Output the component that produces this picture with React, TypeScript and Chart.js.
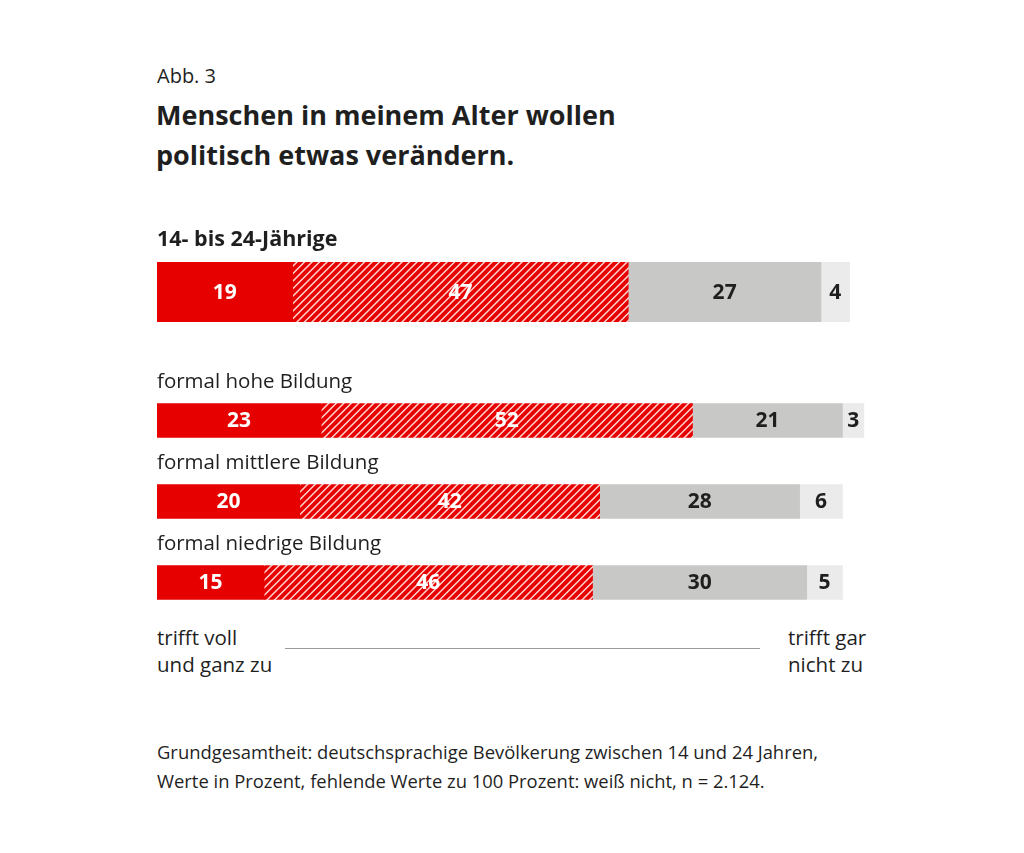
import React, { useEffect, useRef } from "react";
import { Chart, registerables } from "chart.js";

Chart.register(...registerables);

// ---------- data ----------
const topCategories = ["14- bis 24-Jährige"];
const eduCategories = [
  "formal hohe Bildung",
  "formal mittlere Bildung",
  "formal niedrige Bildung",
];
const seriesNames = [
  "trifft voll und ganz zu",
  "trifft eher zu",
  "trifft eher nicht zu",
  "trifft gar nicht zu",
];
const topVoll = [19];
const topEher = [47];
const topEherNicht = [27];
const topGarNicht = [4];

const eduVoll = [23, 20, 15];
const eduEher = [52, 42, 46];
const eduEherNicht = [21, 28, 30];
const eduGarNicht = [3, 6, 5];

// ---------- style ----------
const FONT = "'Open Sans', 'Noto Sans', sans-serif";
const RED = "#e60000";
const GREY = "#c8c8c6";
const LIGHT = "#ebebeb";
const DARK = "#1f1f1f";

function makeHatch(): CanvasPattern | string {
  const s = 7.5;
  const c = document.createElement("canvas");
  c.width = 15;
  c.height = 15;
  const g = c.getContext("2d");
  if (!g) return RED;
  g.fillStyle = RED;
  g.fillRect(0, 0, 15, 15);
  g.strokeStyle = "rgba(255,225,220,0.95)";
  g.lineWidth = 1.5;
  g.beginPath();
  for (let k = -3; k <= 4; k++) {
    const o = k * s;
    g.moveTo(o - 2, 15 + 2);
    g.lineTo(o + 15 + 2, -2);
  }
  g.stroke();
  const p = g.createPattern(c, "repeat");
  return p || RED;
}

const labelPlugin = {
  id: "barLabels",
  afterDatasetsDraw(chart: any, _args: any, opts: any) {
    const ctx = chart.ctx;
    ctx.save();
    chart.data.datasets.forEach((ds: any, di: number) => {
      const meta = chart.getDatasetMeta(di);
      meta.data.forEach((bar: any, i: number) => {
        const v = ds.data[i];
        if (v == null) return;
        const p = bar.getProps(["x", "y", "base"], true);
        ctx.fillStyle = di < 2 ? "#ffffff" : DARK;
        ctx.font = `bold 21px ${FONT}`;
        ctx.textAlign = "center";
        ctx.textBaseline = "middle";
        ctx.fillText(String(v), (p.x + p.base) / 2, p.y + 1);
      });
    });
    const meta0 = chart.getDatasetMeta(0);
    meta0.data.forEach((bar: any, i: number) => {
      const p = bar.getProps(["y", "height"], true);
      const top = p.y - p.height / 2;
      ctx.fillStyle = DARK;
      ctx.font = opts.bold ? `bold 21.5px ${FONT}` : `20.5px ${FONT}`;
      ctx.textAlign = "left";
      ctx.textBaseline = "alphabetic";
      ctx.fillText(chart.data.labels[i], chart.chartArea.left, top - 16);
    });
    ctx.restore();
  },
};

function StackedBars(props: {
  categories: string[];
  series: number[][];
  thickness: number;
  width: number;
  height: number;
  padTop: number;
  bold: boolean;
}) {
  const ref = useRef<HTMLCanvasElement | null>(null);
  useEffect(() => {
    if (!ref.current) return;
    const hatch = makeHatch();
    const colors: any[] = [RED, hatch, GREY, LIGHT];
    const chart = new Chart(ref.current, {
      type: "bar",
      data: {
        labels: props.categories,
        datasets: props.series.map((d, i) => ({
          label: seriesNames[i],
          data: d,
          backgroundColor: colors[i],
          borderWidth: 0,
          barThickness: props.thickness,
        })),
      },
      options: {
        indexAxis: "y",
        responsive: false,
        animation: false,
        layout: { padding: { top: props.padTop, left: 0, right: 0, bottom: 0 } },
        scales: {
          x: { stacked: true, min: 0, max: 100, display: false },
          y: { stacked: true, display: false },
        },
        plugins: {
          legend: { display: false },
          tooltip: { enabled: false },
          barLabels: { bold: props.bold },
        } as any,
      },
      plugins: [labelPlugin],
    });
    return () => chart.destroy();
  }, []);
  return (
    <canvas
      ref={ref}
      width={props.width}
      height={props.height}
      style={{ display: "block" }}
    />
  );
}

export default function App() {
  const txt: React.CSSProperties = {
    position: "absolute",
    color: DARK,
    fontFamily: FONT,
    whiteSpace: "nowrap",
    margin: 0,
  };
  return (
    <div
      style={{
        position: "absolute",
        left: 0,
        top: 0,
        width: 1024,
        height: 853,
        background: "#fff",
        overflow: "hidden",
      }}
    >
      <div style={{ ...txt, left: 157, top: 64, fontSize: 20, lineHeight: "24px" }}>
        Abb. 3
      </div>
      <div
        style={{
          ...txt,
          left: 156,
          top: 95,
          fontSize: 27,
          fontWeight: 700,
          lineHeight: "40px",
        }}
      >
        Menschen in meinem Alter wollen
        <br />
        politisch etwas verändern.
      </div>

      <div style={{ position: "absolute", left: 157, top: 222 }}>
        <StackedBars
          categories={topCategories}
          series={[topVoll, topEher, topEherNicht, topGarNicht]}
          thickness={60}
          width={714}
          height={100}
          padTop={40}
          bold={true}
        />
      </div>
      <div style={{ position: "absolute", left: 157, top: 350 }}>
        <StackedBars
          categories={eduCategories}
          series={[eduVoll, eduEher, eduEherNicht, eduGarNicht]}
          thickness={34}
          width={714}
          height={273}
          padTop={30}
          bold={false}
        />
      </div>

      <div style={{ ...txt, left: 157, top: 624, fontSize: 20.5, lineHeight: "27px" }}>
        trifft voll
        <br />
        und ganz zu
      </div>
      <div
        style={{
          position: "absolute",
          left: 285,
          top: 648,
          width: 475,
          height: 1,
          background: "#9a9a9a",
        }}
      />
      <div style={{ ...txt, left: 788, top: 624, fontSize: 20.5, lineHeight: "27px" }}>
        trifft gar
        <br />
        nicht zu
      </div>

      <div style={{ ...txt, left: 157, top: 737, fontSize: 18.4, lineHeight: "29px" }}>
        Grundgesamtheit: deutschsprachige Bevölkerung zwischen 14 und 24 Jahren,
        <br />
        Werte in Prozent, fehlende Werte zu 100 Prozent: weiß nicht, n = 2.124.
      </div>
    </div>
  );
}
